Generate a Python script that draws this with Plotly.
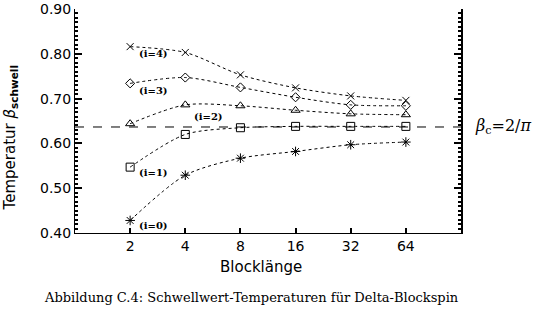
import math
import plotly.graph_objects as go

block_sizes = [2, 4, 8, 16, 32, 64]
tick_labels = ["2", "4", "8", "16", "32", "64"]
beta_i0 = [0.428, 0.529, 0.567, 0.582, 0.597, 0.603]
beta_i1 = [0.547, 0.620, 0.635, 0.638, 0.638, 0.638]
beta_i2 = [0.644, 0.686, 0.684, 0.674, 0.666, 0.664]
beta_i3 = [0.734, 0.747, 0.725, 0.703, 0.686, 0.684]
beta_i4 = [0.816, 0.803, 0.753, 0.724, 0.706, 0.696]
series_names = ["(i=0)", "(i=1)", "(i=2)", "(i=3)", "(i=4)"]
beta_c = 2 / math.pi

W, H = 540, 328
L, R, T, B = 75, 461, 1, 233

series = [beta_i0, beta_i1, beta_i2, beta_i3, beta_i4]
symbols = ["asterisk-open", "square-open", "triangle-up-open", "diamond-open", "x-thin-open"]
sizes = [8, 8, 8, 7, 7]

fig = go.Figure()
for vals, sym, sz, name in zip(series, symbols, sizes, series_names):
    fig.add_trace(go.Scatter(
        x=block_sizes, y=vals, mode="lines+markers", name=name,
        line=dict(color="black", width=1, dash="dot", shape="spline", smoothing=0.8),
        marker=dict(symbol=sym, size=sz, color="black", line=dict(color="black", width=1)),
        showlegend=False,
    ))

fig.add_trace(go.Scatter(x=block_sizes, y=beta_i0, yaxis="y2", mode="markers",
                         marker=dict(opacity=0), showlegend=False, hoverinfo="skip"))

fig.add_shape(type="line", xref="paper", x0=0, x1=1, yref="y", y0=beta_c, y1=beta_c,
              line=dict(color="black", width=1, dash="dash"))

label_offsets = {
    "(i=0)": (0, 0, 7, -5),
    "(i=1)": (0, 1, 7, -5),
    "(i=2)": (1, 2, 7, -12),
    "(i=3)": (0, 3, 7, -7),
    "(i=4)": (0, 4, 7, -7),
}
for name, (xi, si, xs, ys) in label_offsets.items():
    fig.add_annotation(x=math.log10(block_sizes[xi]), y=series[si][xi], xref="x", yref="y",
                       text="<b>" + name + "</b>", showarrow=False,
                       xanchor="left", yanchor="middle", xshift=xs, yshift=ys,
                       font=dict(family="DejaVu Serif", size=10, color="black"))

def px(xp):
    return (xp - L) / (R - L)

def py(yp):
    return (B - yp) / (B - T)

fig.add_annotation(x=px(473), y=beta_c, xref="paper", yref="y", text="<i>β</i><sub>c</sub>=2/<i>π</i>",
                   showarrow=False, xanchor="left", yanchor="middle",
                   font=dict(family="DejaVu Serif", size=16, color="black"))

fig.add_annotation(x=px(10), y=py(135), xref="paper", yref="paper",
                   text="Temperatur <i>β</i><sub><b>schwell</b></sub>", textangle=-90, showarrow=False,
                   xanchor="center", yanchor="middle",
                   font=dict(family="DejaVu Sans", size=15, color="black"))

fig.add_annotation(x=px(261), y=py(268), xref="paper", yref="paper", text="Blocklänge",
                   showarrow=False, xanchor="center", yanchor="middle",
                   font=dict(family="DejaVu Sans", size=15, color="black"))

fig.add_annotation(x=px(251), y=py(300), xref="paper", yref="paper",
                   text="Abbildung C.4: Schwellwert-Temperaturen für Delta-Blockspin",
                   showarrow=False, xanchor="center", yanchor="middle",
                   font=dict(family="DejaVu Serif", size=13, color="black"))

fig.update_layout(
    width=W, height=H,
    margin=dict(l=L, r=W - R, t=T, b=H - B),
    paper_bgcolor="white", plot_bgcolor="white",
    xaxis=dict(type="log", range=[0, math.log10(128)], tickvals=block_sizes, ticktext=tick_labels,
               ticks="inside", ticklen=5, tickwidth=1.5, tickcolor="black", showgrid=False, zeroline=False,
               showline=True, linecolor="black", linewidth=1,
               tickfont=dict(family="DejaVu Sans", size=14, color="black")),
    yaxis=dict(range=[0.40, 0.90], dtick=0.10, tickformat=".2f",
               ticks="inside", ticklen=7, tickwidth=1.5, tickcolor="black", showgrid=False, zeroline=False,
               showline=True, linecolor="black", linewidth=1,
               minor=dict(dtick=0.01, ticks="inside", ticklen=3, tickwidth=1.5, tickcolor="black"),
               ticklabeloverflow="allow",
               tickfont=dict(family="DejaVu Sans", size=14, color="black")),
    yaxis2=dict(range=[0.40, 0.90], dtick=0.10, overlaying="y", side="right", anchor="x",
                ticks="inside", ticklen=7, tickwidth=1.5, tickcolor="black", showgrid=False, zeroline=False,
                showline=True, linecolor="black", linewidth=1.5, showticklabels=False,
                minor=dict(dtick=0.01, ticks="inside", ticklen=3, tickwidth=1.5, tickcolor="black")),
)

fig.write_html("out.html")
